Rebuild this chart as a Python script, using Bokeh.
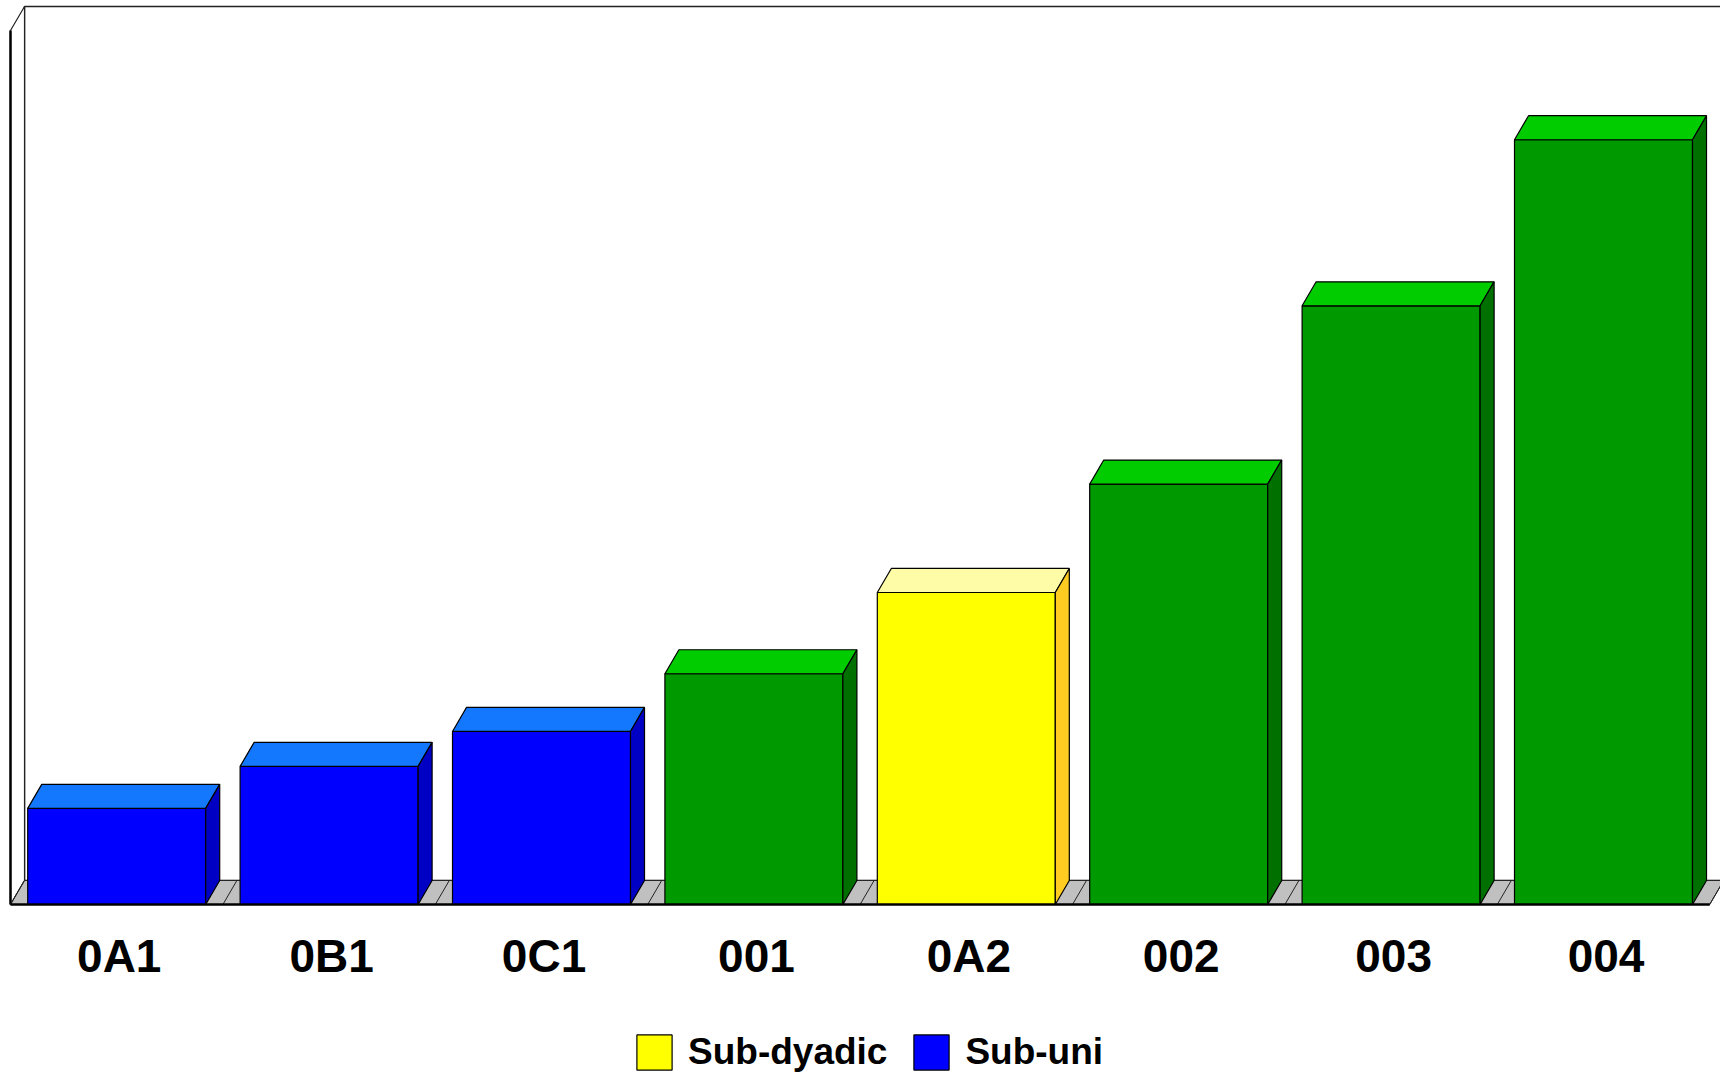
from bokeh.plotting import figure
from bokeh.models import ColumnDataSource, Range1d, Legend, LegendItem
from bokeh.core.properties import value
from bokeh.embed import file_html
from bokeh.resources import INLINE

# ---- data ----
categories = ["0A1", "0B1", "0C1", "001", "0A2", "002", "003", "004"]
values = [11.0, 15.8, 19.8, 26.4, 35.7, 48.1, 68.5, 87.5]
groups = ["Sub-uni", "Sub-uni", "Sub-uni", "", "Sub-dyadic", "", "", ""]
y_max = 100.0

# ---- style ----
front_col = {"Sub-uni": "#0000FF", "Sub-dyadic": "#FFFF00", "": "#009900"}
top_col = {"Sub-uni": "#1478FF", "Sub-dyadic": "#FFFCA8", "": "#00CC00"}
side_col = {"Sub-uni": "#0000C4", "Sub-dyadic": "#FFCC22", "": "#007000"}
BAR_W = 0.838
DX = 0.066   # depth offset (x units)
DY = 2.75    # depth offset (y units)
FONT = "Liberation Sans"

n = len(categories)
x0 = -0.5
x1 = n - 0.5

W, H = 1720, 1076
PX_X = 212.4          # pixels per category
PX_Y = 8.74           # pixels per value unit
xs_start = x0 - 10 / PX_X
ys_start = -(H - 904) / PX_Y

p = figure(width=W, height=H, output_backend="svg", toolbar_location=None,
           x_range=Range1d(xs_start, xs_start + W / PX_X),
           y_range=Range1d(ys_start, ys_start + H / PX_Y),
           x_axis_location=None, y_axis_location=None,
           min_border=0)
p.outline_line_color = None
p.grid.visible = False
p.background_fill_color = "white"

# back wall
p.quad(left=[x0 + DX], right=[x1 + DX], bottom=[DY], top=[y_max + DY],
       fill_color="white", line_color="#222222", line_width=1.5)
# left wall
p.patch(x=[x0, x0 + DX, x0 + DX, x0], y=[0, DY, y_max + DY, y_max],
        fill_color="white", line_color="#222222", line_width=1.2)
p.segment(x0=[x0], y0=[0], x1=[x0], y1=[y_max], line_color="black", line_width=2.5)
# floor
p.patch(x=[x0, x1, x1 + DX, x0 + DX], y=[0, 0, DY, DY],
        fill_color="#C0C0C0", line_color="#222222", line_width=1)
bounds = [x0 + k for k in range(n + 1)]
p.segment(x0=bounds, y0=[0] * len(bounds), x1=[b + DX for b in bounds],
          y1=[DY] * len(bounds), line_color="#222222", line_width=1)

# bars
xs = list(range(n))
lefts = [x - BAR_W / 2 for x in xs]
rights = [x + BAR_W / 2 for x in xs]
src = ColumnDataSource(dict(left=lefts, right=rights, top=values,
                            bottom=[0] * n,
                            color=[front_col[g] for g in groups]))
front = p.quad(left="left", right="right", bottom="bottom", top="top",
               source=src, fill_color="color", line_color="black", line_width=1.2)

top_xs = [[l, r, r + DX, l + DX] for l, r in zip(lefts, rights)]
top_ys = [[v, v, v + DY, v + DY] for v in values]
p.patches(xs=top_xs, ys=top_ys, fill_color=[top_col[g] for g in groups],
          line_color="black", line_width=1.2)
side_xs = [[r, r + DX, r + DX, r] for r in rights]
side_ys = [[0, DY, v + DY, v] for v in values]
p.patches(xs=side_xs, ys=side_ys, fill_color=[side_col[g] for g in groups],
          line_color="black", line_width=1.2)

# floor front line
p.segment(x0=[x0], y0=[0], x1=[x1], y1=[0], line_color="black", line_width=2.5)

# category labels
p.text(x=[x + 0.012 for x in xs], y=[-5.84] * n, text=categories,
       text_align="center", text_baseline="middle",
       text_font=value(FONT), text_font_style="bold",
       text_font_size="46px", text_color="black")

legend = Legend(items=[LegendItem(label="Sub-dyadic", renderers=[front], index=4),
                       LegendItem(label="Sub-uni", renderers=[front], index=0)],
                orientation="horizontal", location=(632, 2),
                glyph_width=44, glyph_height=44, label_standoff=12, spacing=22,
                padding=0, margin=0, border_line_color=None,
                background_fill_alpha=0,
                label_text_font=FONT, label_text_font_style="bold",
                label_text_font_size="37px", label_text_color="black")
p.add_layout(legend, "center")

open("out.html", "w").write(file_html(p, INLINE))
